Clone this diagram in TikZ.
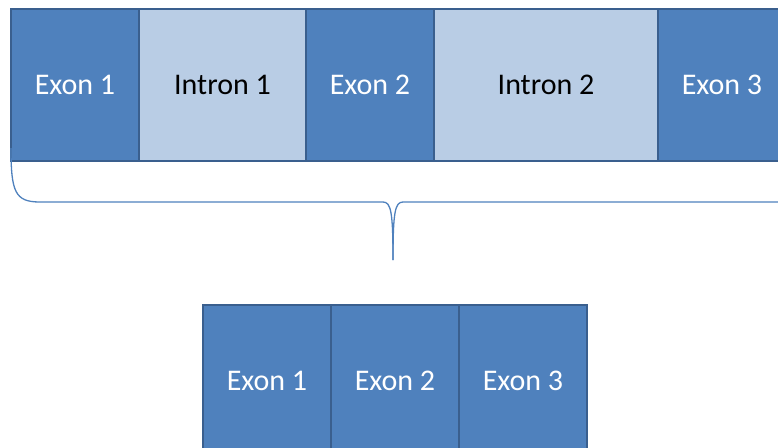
\documentclass[tikz,border=0pt]{standalone}
\usepackage{fontspec}
\setmainfont{Carlito}
\usetikzlibrary{positioning}

\definecolor{exonblue}{HTML}{4F81BD}
\definecolor{intronblue}{HTML}{B9CDE5}
\definecolor{edgeblue}{HTML}{3A5F8E}

\tikzset{
  exonbox/.style={draw=edgeblue, line width=2pt, fill=exonblue, text=white,
    minimum width=128pt, minimum height=152pt, outer sep=0pt, inner sep=0pt,
    font=\fontsize{30}{34}\selectfont},
  intronbox/.style={exonbox, fill=intronblue, text=black},
}

\begin{document}
\begin{tikzpicture}[x=1pt, y=-1pt]
  \clip (0, 0) rectangle (778, 447);

  % pre-mRNA
  \node[exonbox, anchor=north west] (ex1) at (11, 9) {Exon 1};
  \node[intronbox, minimum width=167pt, right=0pt of ex1] (in1) {Intron 1};
  \node[exonbox, right=0pt of in1] (ex2) {Exon 2};
  \node[intronbox, minimum width=224pt, right=0pt of ex2] (in2) {Intron 2};
  \node[exonbox, right=0pt of in2] (ex3) {Exon 3};

  % brace
  \coordinate (tip) at (393, 260);
  \draw[exonblue, line width=1.3pt]
    (11, 148) .. controls (11, 192) and (15, 202) .. (40, 202)
    -- (383, 202) .. controls (391, 202) and (393, 212) .. (tip);
  \draw[exonblue, line width=1.3pt]
    (tip) .. controls (393, 212) and (395, 202) .. (403, 202)
    -- (790, 202);

  % mature mRNA
  \node[exonbox, anchor=north west] (mex1) at (203, 305) {Exon 1};
  \node[exonbox, right=0pt of mex1] (mex2) {Exon 2};
  \node[exonbox, right=0pt of mex2] (mex3) {Exon 3};
\end{tikzpicture}
\end{document}
